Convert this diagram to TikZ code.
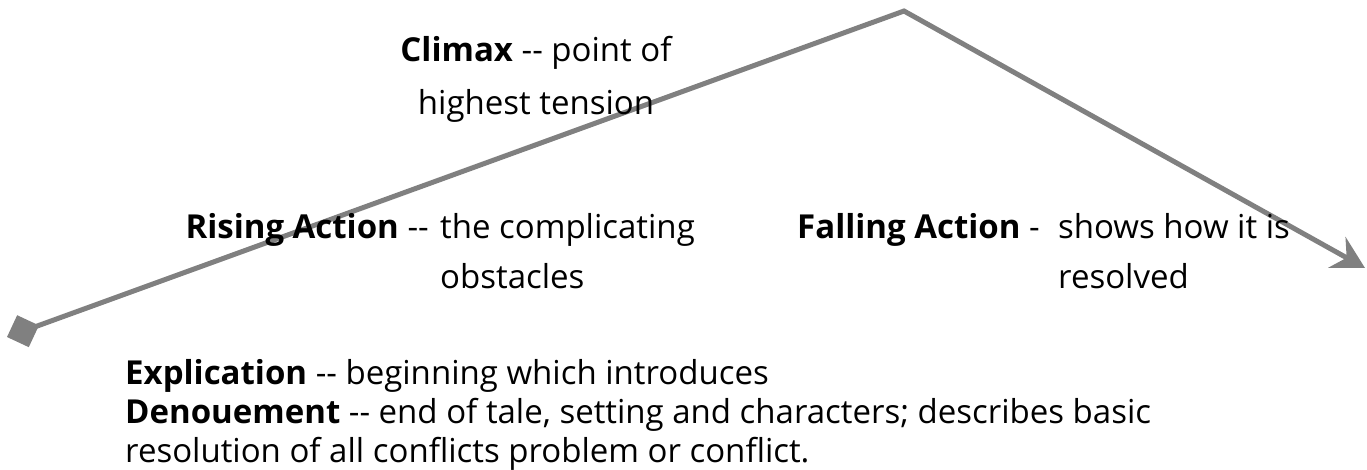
\documentclass[tikz,border=0pt]{standalone}
\usepackage{fontspec}
\setmainfont{Open Sans}
\usetikzlibrary{arrows.meta}
\definecolor{plotgray}{RGB}{128,128,128}
\newcommand{\dbl}{\mbox{-}\mbox{-}}

\begin{document}
\begin{tikzpicture}[x=1pt,y=-1pt]
    \tikzstyle{txt}=[inner sep=0pt,font=\fontsize{33}{50}\selectfont]
    \tikzstyle{plot}=[line width=5pt,draw=plotgray,line join=miter]
    \useasboundingbox (0,0) rectangle (1367,469);

    \coordinate (start) at (7,337);
    \coordinate (peak) at (904,11);
    \coordinate (stop) at (1365,268);

    \draw[plot,{Diamond[length=34pt,width=34pt]}-{Stealth[length=32pt,width=35pt,inset=11pt]}] (start) -- (peak) -- (stop);

    % anchor=base is the baseline of the last line
    \node (climax)[txt,align=center,anchor=base,font=\fontsize{33}{53}\selectfont] at (536,114) {\textbf{Climax} \dbl{} point of\\highest tension};

    \node (rising)[txt,anchor=base east] at (429,238) {\textbf{Rising Action} \dbl};
    \node (risingdesc)[txt,anchor=base west,align=left] at (440,288) {the complicating\\obstacles};

    \node (falling)[txt,anchor=base west] at (797,238) {\textbf{Falling Action} -};
    \node (fallingdesc)[txt,anchor=base west,align=left] at (1058,288) {shows how it is\\resolved};

    \node (plotline)[txt,anchor=base west,align=left,font=\fontsize{33}{39}\selectfont] at (125,462) {\textbf{Explication} \dbl{} beginning which introduces\\\textbf{Denouement} \dbl{} end of tale, setting and characters; describes basic\\resolution of all conflicts problem or conflict.};
\end{tikzpicture}
\end{document}
